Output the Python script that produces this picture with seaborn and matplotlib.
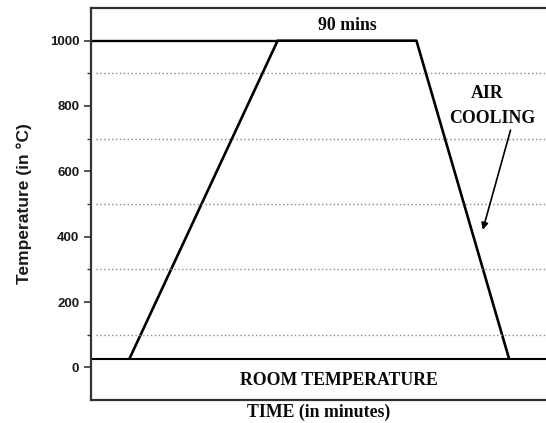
import matplotlib
matplotlib.use("Agg")
import matplotlib.pyplot as plt
import seaborn as sns
import pandas as pd
import numpy as np

# Heat-treatment cycle (time in minutes, temperature in °C)
cycle_time = [25, 121, 211, 271]
cycle_temp = [27, 1000, 1000, 27]
room_temp = 27
soak_temp = 1000
soak_minutes = 90
major_ticks = [0, 200, 400, 600, 800, 1000]
minor_ticks = [100, 300, 500, 700, 900]

sns.set_theme(style="white")
plt.rcParams["font.family"] = ["Liberation Sans", "DejaVu Sans"]

fig = plt.figure(figsize=(5.46, 4.23), dpi=100)
ax = fig.add_axes([91 / 546, 1 - 400 / 423, 1 - 91 / 546, (400 - 8) / 423])

df = pd.DataFrame({"time": cycle_time, "temp": cycle_temp})
sns.lineplot(data=df, x="time", y="temp", ax=ax, color="black", linewidth=1.9,
             sort=False, estimator=None)

ax.set_xlim(0, 295)
ax.set_ylim(-100, 1100)

# reference levels
ax.axhline(room_temp, color="black", linewidth=1.5)
ax.hlines(soak_temp, 0, cycle_time[1], color="black", linewidth=1.7)
for m in minor_ticks:
    ax.hlines(m, 3, 295, color="#8a8a8a", linewidth=1.0, linestyle=(0, (1, 1.8)))

ax.set_yticks(major_ticks)
ax.set_yticks(minor_ticks, minor=True)
ax.set_xticks([])
ax.tick_params(axis="y", which="major", length=5, width=1.2, color="#333333",
               direction="out", left=True, pad=3.5)
ax.tick_params(axis="y", which="minor", length=3, width=1.0, color="#333333",
               direction="out", left=True)
for lbl in ax.get_yticklabels():
    lbl.set_fontweight("bold")
    lbl.set_fontsize(9.5)
    lbl.set_color("#1a1a1a")

ax.spines["right"].set_visible(False)
for side in ["left", "top", "bottom"]:
    ax.spines[side].set_color("#333333")
    ax.spines[side].set_linewidth(1.6)

ax.set_ylabel("Temperature (in °C)", fontsize=12.5, fontweight="bold",
              color="#1a1a1a", labelpad=13)
ax.set_xlabel("TIME (in minutes)", fontsize=12.8, fontweight="bold",
              family="Liberation Serif", color="#0a0a0a", labelpad=3)

serif = dict(family="Liberation Serif", fontweight="bold", fontsize=12.8,
             color="#0a0a0a", ha="center", va="center")
ax.text((cycle_time[1] + cycle_time[2]) / 2, 1047, f"{soak_minutes} mins", **serif)
ax.text(257, 839, "AIR", **serif)
ax.text(260, 763, "COOLING", **serif)
ax.text(161, -41, "ROOM TEMPERATURE", **serif)

ax.annotate("", xy=(254, 421), xytext=(272, 726),
            arrowprops=dict(arrowstyle="-|>", color="black", lw=1.2,
                            mutation_scale=10, shrinkA=0, shrinkB=0))

fig.savefig("out.png", dpi=100)
